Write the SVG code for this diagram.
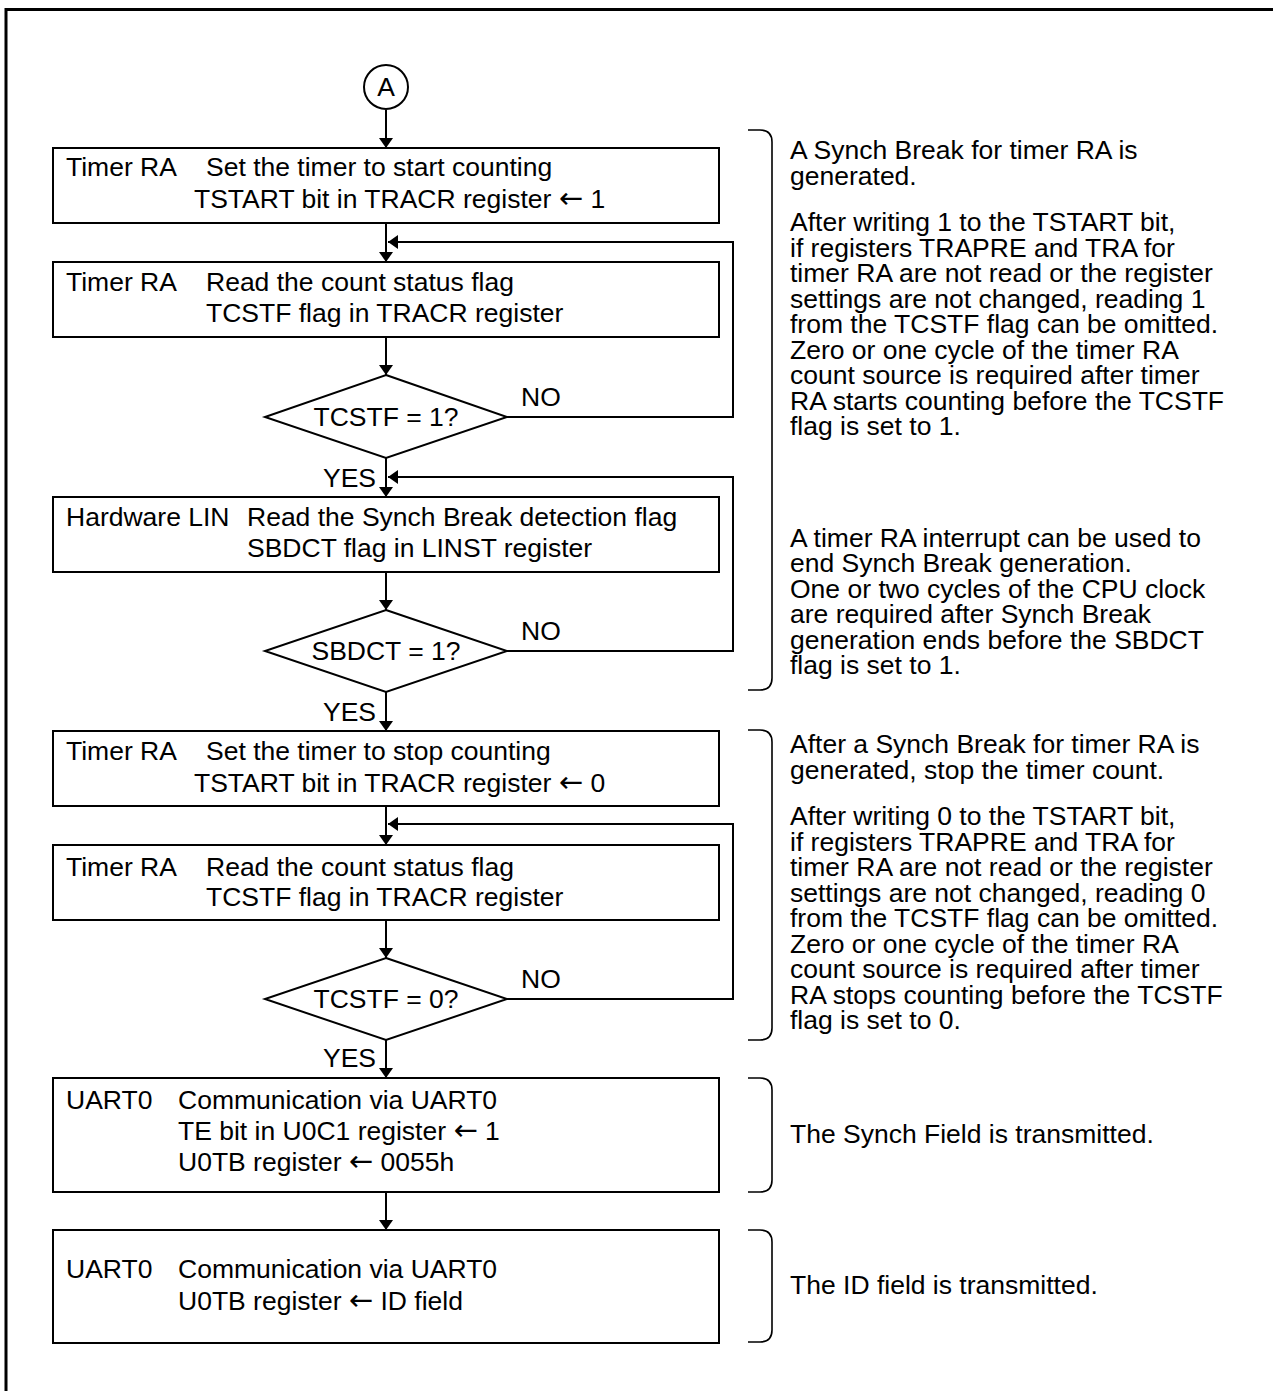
<svg xmlns="http://www.w3.org/2000/svg" width="1273" height="1391" viewBox="0 0 1273 1391">
<style>
text{font-family:"Liberation Sans",Arial,sans-serif;font-size:26.5px;fill:#000}
.ar{font-family:"DejaVu Sans",sans-serif;font-size:29px}
.box{fill:#fff;stroke:#000;stroke-width:2}
.ln{fill:none;stroke:#000;stroke-width:2}
.br{fill:none;stroke:#000;stroke-width:1.6}
</style>
<defs>
<marker id="ah" viewBox="0 0 10 14" refX="10" refY="7" markerWidth="10" markerHeight="14" markerUnits="userSpaceOnUse" orient="auto">
<path d="M0,0 L10,7 L0,14 Z" fill="#000"/>
</marker>
</defs>
<rect x="6" y="9.5" width="1300" height="1400" fill="#fff" stroke="#000" stroke-width="3"/>

<g id="connectors">
<path class="ln" d="M386,110 V148" marker-end="url(#ah)"/>
<path class="ln" d="M386,223 V262" marker-end="url(#ah)"/>
<path class="ln" d="M386,337 V375" marker-end="url(#ah)"/>
<path class="ln" d="M507,417 H733 V242 H388" marker-end="url(#ah)"/>
<path class="ln" d="M386,458 V497" marker-end="url(#ah)"/>
<path class="ln" d="M507,651 H733 V477 H388" marker-end="url(#ah)"/>
<path class="ln" d="M386,572 V610" marker-end="url(#ah)"/>
<path class="ln" d="M386,692 V731" marker-end="url(#ah)"/>
<path class="ln" d="M386,806 V845" marker-end="url(#ah)"/>
<path class="ln" d="M507,999 H733 V824 H388" marker-end="url(#ah)"/>
<path class="ln" d="M386,920 V958" marker-end="url(#ah)"/>
<path class="ln" d="M386,1040 V1078" marker-end="url(#ah)"/>
<path class="ln" d="M386,1192 V1230" marker-end="url(#ah)"/>
<text x="521" y="406">NO</text>
<text x="376" y="487" text-anchor="end">YES</text>
<text x="521" y="640">NO</text>
<text x="376" y="721" text-anchor="end">YES</text>
<text x="521" y="988">NO</text>
<text x="376" y="1067" text-anchor="end">YES</text>
</g>

<g id="startA">
<circle cx="386" cy="87" r="22" fill="#fff" stroke="#000" stroke-width="2"/>
<text x="386" y="96" text-anchor="middle">A</text>
</g>

<g id="box1">
<rect class="box" x="53" y="148" width="666" height="75"/>
<text x="66" y="176">Timer RA</text>
<text x="206" y="176">Set the timer to start counting</text>
<text x="194" y="208">TSTART bit in TRACR register <tspan class="ar">←</tspan> 1</text>
</g>

<g id="box2">
<rect class="box" x="53" y="262" width="666" height="75"/>
<text x="66" y="291">Timer RA</text>
<text x="206" y="291">Read the count status flag</text>
<text x="206" y="322">TCSTF flag in TRACR register</text>
</g>

<g id="dec1">
<polygon class="box" points="386,375 507,417 386,458 265,417"/>
<text x="386" y="426" text-anchor="middle">TCSTF = 1?</text>
</g>

<g id="box3">
<rect class="box" x="53" y="497" width="666" height="75"/>
<text x="66" y="526">Hardware LIN</text>
<text x="247" y="526">Read the Synch Break detection flag</text>
<text x="247" y="557">SBDCT flag in LINST register</text>
</g>

<g id="dec2">
<polygon class="box" points="386,610 507,651 386,692 265,651"/>
<text x="386" y="660" text-anchor="middle">SBDCT = 1?</text>
</g>

<g id="box4">
<rect class="box" x="53" y="731" width="666" height="75"/>
<text x="66" y="760">Timer RA</text>
<text x="206" y="760">Set the timer to stop counting</text>
<text x="194" y="792">TSTART bit in TRACR register <tspan class="ar">←</tspan> 0</text>
</g>

<g id="box5">
<rect class="box" x="53" y="845" width="666" height="75"/>
<text x="66" y="876">Timer RA</text>
<text x="206" y="876">Read the count status flag</text>
<text x="206" y="906">TCSTF flag in TRACR register</text>
</g>

<g id="dec3">
<polygon class="box" points="386,958 507,999 386,1040 265,999"/>
<text x="386" y="1008" text-anchor="middle">TCSTF = 0?</text>
</g>

<g id="box6">
<rect class="box" x="53" y="1078" width="666" height="114"/>
<text x="66" y="1109">UART0</text>
<text x="178" y="1109">Communication via UART0</text>
<text x="178" y="1140">TE bit in U0C1 register <tspan class="ar">←</tspan> 1</text>
<text x="178" y="1171">U0TB register <tspan class="ar">←</tspan> 0055h</text>
</g>

<g id="box7">
<rect class="box" x="53" y="1230" width="666" height="113"/>
<text x="66" y="1278">UART0</text>
<text x="178" y="1278">Communication via UART0</text>
<text x="178" y="1310">U0TB register <tspan class="ar">←</tspan> ID field</text>
</g>

<g id="note1">
<path class="br" d="M748,130 H760 Q772,130 772,142 V678 Q772,690 760,690 H748"/>
<text x="790" y="159">A Synch Break for timer RA is</text>
<text x="790" y="184.5">generated.</text>
<text x="790" y="231">After writing 1 to the TSTART bit,</text>
<text x="790" y="256.5">if registers TRAPRE and TRA for</text>
<text x="790" y="282">timer RA are not read or the register</text>
<text x="790" y="307.5">settings are not changed, reading 1</text>
<text x="790" y="333">from the TCSTF flag can be omitted.</text>
<text x="790" y="358.5">Zero or one cycle of the timer RA</text>
<text x="790" y="384">count source is required after timer</text>
<text x="790" y="409.5">RA starts counting before the TCSTF</text>
<text x="790" y="435">flag is set to 1.</text>
<text x="790" y="546.5">A timer RA interrupt can be used to</text>
<text x="790" y="572">end Synch Break generation.</text>
<text x="790" y="597.5">One or two cycles of the CPU clock</text>
<text x="790" y="623">are required after Synch Break</text>
<text x="790" y="648.5">generation ends before the SBDCT</text>
<text x="790" y="674">flag is set to 1.</text>
</g>

<g id="note2">
<path class="br" d="M748,730 H760 Q772,730 772,742 V1028 Q772,1040 760,1040 H748"/>
<text x="790" y="753">After a Synch Break for timer RA is</text>
<text x="790" y="778.5">generated, stop the timer count.</text>
<text x="790" y="825">After writing 0 to the TSTART bit,</text>
<text x="790" y="850.5">if registers TRAPRE and TRA for</text>
<text x="790" y="876">timer RA are not read or the register</text>
<text x="790" y="901.5">settings are not changed, reading 0</text>
<text x="790" y="927">from the TCSTF flag can be omitted.</text>
<text x="790" y="952.5">Zero or one cycle of the timer RA</text>
<text x="790" y="978">count source is required after timer</text>
<text x="790" y="1003.5">RA stops counting before the TCSTF</text>
<text x="790" y="1029">flag is set to 0.</text>
</g>

<g id="note3">
<path class="br" d="M748,1078 H760 Q772,1078 772,1090 V1180 Q772,1192 760,1192 H748"/>
<text x="790" y="1143">The Synch Field is transmitted.</text>
</g>

<g id="note4">
<path class="br" d="M748,1230 H760 Q772,1230 772,1242 V1330 Q772,1342 760,1342 H748"/>
<text x="790" y="1294">The ID field is transmitted.</text>
</g>
</svg>
